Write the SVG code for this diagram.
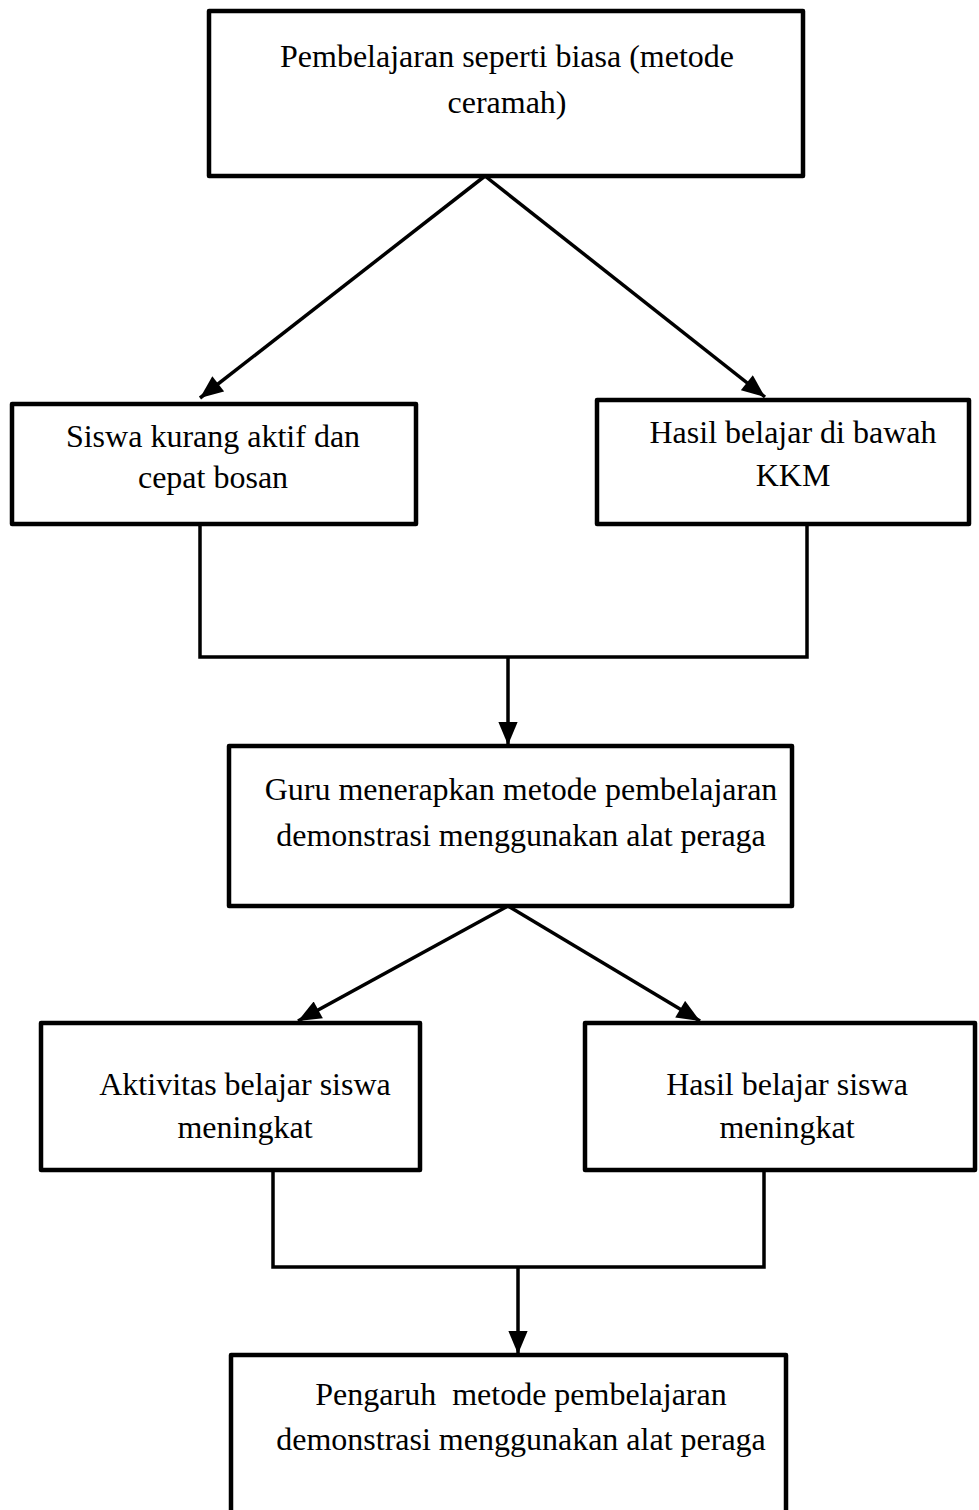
<svg xmlns="http://www.w3.org/2000/svg" width="979" height="1510" viewBox="0 0 979 1510">
<style>
.box{fill:#fff;stroke:#000;stroke-width:4.5;stroke-linejoin:round}
.t{font-family:"Liberation Serif","Times New Roman",serif;font-size:32px;fill:#000;text-anchor:middle}
.c{fill:none;stroke:#000;stroke-width:3.5}
</style>
<defs>
<marker id="ah" viewBox="0 0 12 10" refX="12" refY="5" markerWidth="7" markerHeight="5.5" markerUnits="strokeWidth" orient="auto">
<path d="M0,0 L12,5 L0,10 Z" fill="#000"/>
</marker>
</defs>
<rect width="979" height="1510" fill="#fff"/>
<g id="connectors">
<line class="c" x1="485" y1="176" x2="200" y2="398" marker-end="url(#ah)"/>
<line class="c" x1="485" y1="176" x2="765" y2="397" marker-end="url(#ah)"/>
<polyline class="c" points="200,524 200,657 807,657 807,524"/>
<line class="c" x1="508" y1="657" x2="508" y2="745" marker-end="url(#ah)"/>
<line class="c" x1="508" y1="906" x2="298" y2="1021" marker-end="url(#ah)"/>
<line class="c" x1="508" y1="906" x2="700" y2="1021" marker-end="url(#ah)"/>
<polyline class="c" points="273,1170 273,1267 764,1267 764,1170"/>
<line class="c" x1="518" y1="1267" x2="518" y2="1354" marker-end="url(#ah)"/>
</g>
<g id="n1">
<rect class="box" x="209" y="11" width="594" height="165"/>
<text class="t" x="507" y="67">Pembelajaran seperti biasa (metode</text>
<text class="t" x="507" y="113">ceramah)</text>
</g>
<g id="n2">
<rect class="box" x="12" y="404" width="404" height="120"/>
<text class="t" x="213" y="447">Siswa kurang aktif dan</text>
<text class="t" x="213" y="488">cepat bosan</text>
</g>
<g id="n3">
<rect class="box" x="597" y="400" width="372" height="124"/>
<text class="t" x="793" y="443">Hasil belajar di bawah</text>
<text class="t" x="793" y="486">KKM</text>
</g>
<g id="n4">
<rect class="box" x="229" y="746" width="563" height="160"/>
<text class="t" x="521" y="800">Guru menerapkan metode pembelajaran</text>
<text class="t" x="521" y="846">demonstrasi menggunakan alat peraga</text>
</g>
<g id="n5">
<rect class="box" x="41" y="1023" width="379" height="147"/>
<text class="t" x="245" y="1095">Aktivitas belajar siswa</text>
<text class="t" x="245" y="1138">meningkat</text>
</g>
<g id="n6">
<rect class="box" x="585" y="1023" width="390" height="147"/>
<text class="t" x="787" y="1095">Hasil belajar siswa</text>
<text class="t" x="787" y="1138">meningkat</text>
</g>
<g id="n7">
<rect class="box" x="231" y="1355" width="555" height="170"/>
<text class="t" x="521" y="1405" xml:space="preserve">Pengaruh  metode pembelajaran</text>
<text class="t" x="521" y="1450">demonstrasi menggunakan alat peraga</text>
</g>
</svg>
